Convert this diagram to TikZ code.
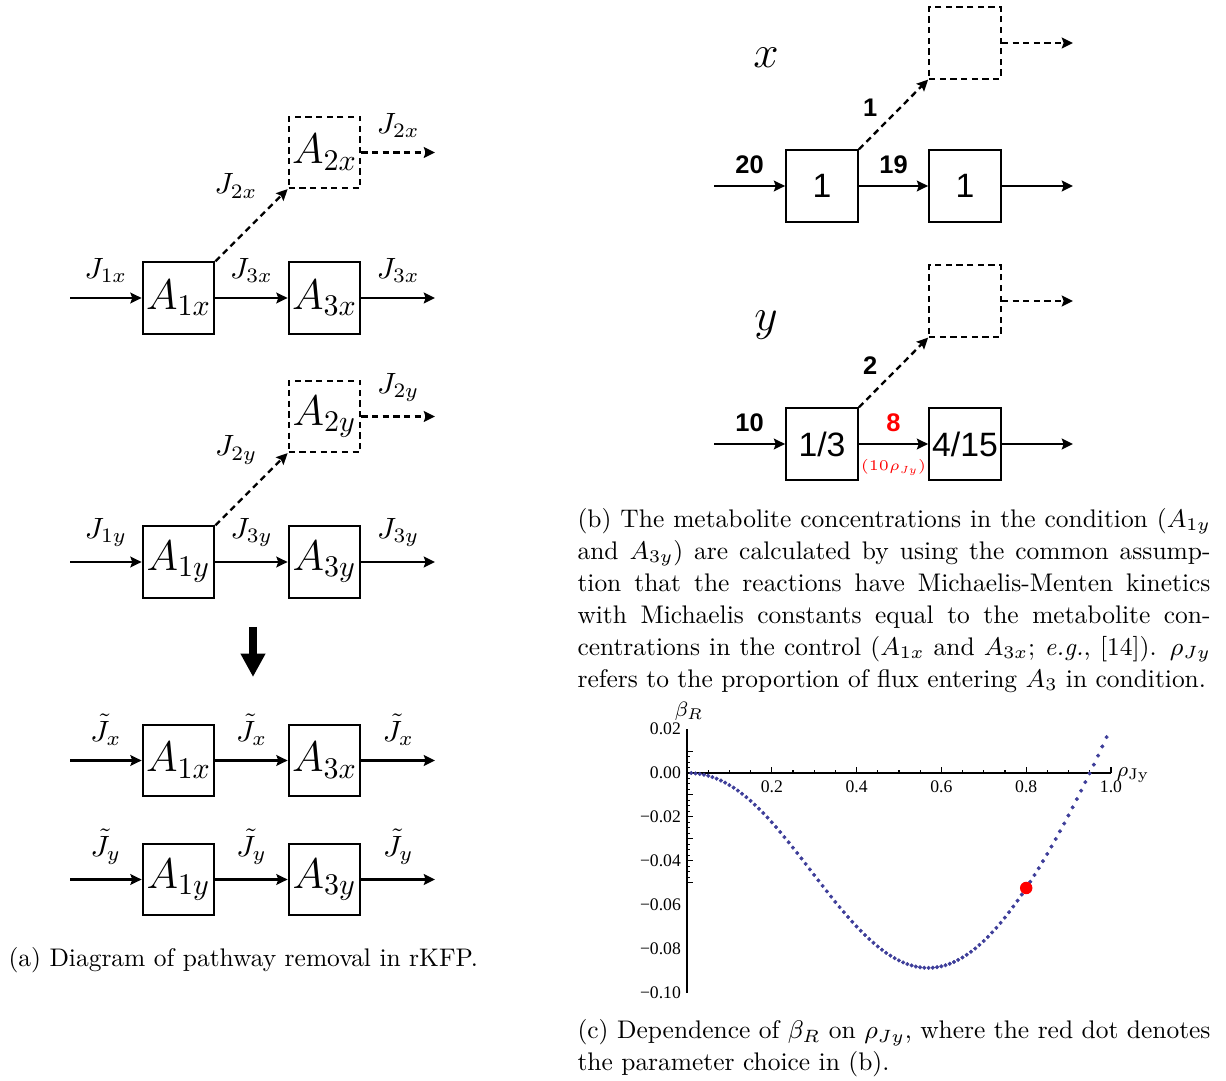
\RequirePackage{fix-cm}
\documentclass[tikz,border=0pt]{standalone}
\usepackage{fontspec}
\usepackage{tikz}
\usetikzlibrary{arrows.meta,positioning,calc}
\newfontfamily\arialfont{Liberation Sans}
\newfontfamily\timesfont{Liberation Serif}
\definecolor{plotblue}{rgb}{0.24,0.24,0.6}
\definecolor{hotred}{rgb}{1,0,0}
\tikzset{
  poolbox/.style={
    rectangle, draw=black, line width=0.8pt,
    minimum width=27.6pt, minimum height=27.4pt,
    inner sep=0.5pt, font=\fontsize{16.5}{19}\selectfont
  },
  ghostbox/.style={poolbox, dash pattern=on 2.4pt off 1.7pt},
  numbox/.style={poolbox, font=\arialfont\fontsize{13}{15}\selectfont},
  fluxarrow/.style={
    -{Stealth[length=4.3pt, width=4.1pt, inset=0.7pt]}, line width=0.9pt
  },
  lostarrow/.style={fluxarrow, dash pattern=on 2.4pt off 1.7pt},
  fluxlabel/.style={font=\fontsize{11.3}{13}\selectfont},
  numlabel/.style={font=\arialfont\bfseries\fontsize{9.8}{11}\selectfont},
  ticklabel/.style={font=\timesfont\fontsize{6.8}{8}\selectfont, inner sep=1pt},
  capnode/.style={
    font=\fontsize{9.8}{12.3}\selectfont, inner sep=0pt,
    align=justify, text width=#1
  },
  capnode/.default=243.7pt,
  axisline/.style={line width=0.4pt, black},
  declare function={betaR(\r)=(\r-0.95)*\r*\r*(0.478+2.0589*\r-3.8663*\r*\r+1.7484*\r*\r*\r);}
}

\begin{document}
\begin{tikzpicture}[x=0.385pt, y=-0.385pt]
  \useasboundingbox (0,0) rectangle (1226,1081);

  % (a) control x
  \node[poolbox] (a1x) at (178.5,298) {$A_{1x}$};
  \node[poolbox] (a3x) at (324.5,298) {$A_{3x}$};
  \node[ghostbox] (a2x) at (324.5,152.5) {$A_{2x}$};
  \coordinate (inx) at (70,298);
  \coordinate (outx) at (435,298);
  \coordinate (lostx) at (435,152.5);
  \draw[fluxarrow] (inx) -- node[fluxlabel, above=2pt] (j1x) {$J_{1x}$} (a1x);
  \draw[fluxarrow] (a1x) -- node[fluxlabel, above=2pt] (j3x) {$J_{3x}$} (a3x);
  \draw[fluxarrow] (a3x) -- node[fluxlabel, above=2pt] (j3xo) {$J_{3x}$} (outx);
  \draw[lostarrow] (a1x.north east) -- (a2x.south west);
  \node[fluxlabel] (j2x) at (236,186) {$J_{2x}$};
  \draw[lostarrow] (a2x) -- node[fluxlabel, above=2pt] (j2xo) {$J_{2x}$} (lostx);

  % (a) condition y
  \node[poolbox] (a1y) at (178.5,562) {$A_{1y}$};
  \node[poolbox] (a3y) at (324.5,562) {$A_{3y}$};
  \node[ghostbox] (a2y) at (324.5,416.5) {$A_{2y}$};
  \coordinate (iny) at (70,562);
  \coordinate (outy) at (435,562);
  \coordinate (losty) at (435,416.5);
  \draw[fluxarrow] (iny) -- node[fluxlabel, above=2pt] (j1y) {$J_{1y}$} (a1y);
  \draw[fluxarrow] (a1y) -- node[fluxlabel, above=2pt] (j3y) {$J_{3y}$} (a3y);
  \draw[fluxarrow] (a3y) -- node[fluxlabel, above=2pt] (j3yo) {$J_{3y}$} (outy);
  \draw[lostarrow] (a1y.north east) -- (a2y.south west);
  \node[fluxlabel] (j2y) at (236,450) {$J_{2y}$};
  \draw[lostarrow] (a2y) -- node[fluxlabel, above=2pt] (j2yo) {$J_{2y}$} (losty);

  % removal step
  \coordinate (dntop) at (253,627);
  \coordinate (dntip) at (253,677);
  \draw[line width=2.8pt, -{Triangle[width=9pt, length=9pt]}] (dntop) -- (dntip);

  % (a) after removal
  \node[poolbox] (r1x) at (178.5,760.5) {$A_{1x}$};
  \node[poolbox] (r3x) at (324.5,760.5) {$A_{3x}$};
  \coordinate (rinx) at (70,760.5);
  \coordinate (routx) at (435,760.5);
  \draw[fluxarrow] (rinx) -- node[fluxlabel, above=2pt] (t1x) {$\tilde{J}_x$} (r1x);
  \draw[fluxarrow] (r1x) -- node[fluxlabel, above=2pt] (t3x) {$\tilde{J}_x$} (r3x);
  \draw[fluxarrow] (r3x) -- node[fluxlabel, above=2pt] (t3xo) {$\tilde{J}_x$} (routx);
  \node[poolbox] (r1y) at (178.5,879.5) {$A_{1y}$};
  \node[poolbox] (r3y) at (324.5,879.5) {$A_{3y}$};
  \coordinate (riny) at (70,879.5);
  \coordinate (routy) at (435,879.5);
  \draw[fluxarrow] (riny) -- node[fluxlabel, above=2pt] (t1y) {$\tilde{J}_y$} (r1y);
  \draw[fluxarrow] (r1y) -- node[fluxlabel, above=2pt] (t3y) {$\tilde{J}_y$} (r3y);
  \draw[fluxarrow] (r3y) -- node[fluxlabel, above=2pt] (t3yo) {$\tilde{J}_y$} (routy);

  \node[capnode=300pt, align=left, anchor=base west] (capa) at (8,966)
    {(a) Diagram of pathway removal in rKFP.};

  % (b) control x
  \node[font=\fontsize{17.5}{20}\selectfont] (xlab) at (766,58) {$x$};
  \node[numbox] (b1x) at (822,186) {1};
  \node[numbox] (b3x) at (965,186) {1};
  \node[ghostbox] (b2x) at (965,43) {};
  \coordinate (binx) at (714,186);
  \coordinate (boutx) at (1073,186);
  \coordinate (blostx) at (1073,43);
  \draw[fluxarrow] (binx) -- node[numlabel, above=1pt] (n20) {20} (b1x);
  \draw[fluxarrow] (b1x) -- node[numlabel, above=1pt] (n19) {19} (b3x);
  \draw[fluxarrow] (b3x) -- (boutx);
  \draw[lostarrow] (b1x.north east) -- node[numlabel, left=2.5pt, yshift=2.5pt] (n1) {1} (b2x.south west);
  \draw[lostarrow] (b2x) -- (blostx);

  % (b) condition y
  \node[font=\fontsize{17.5}{20}\selectfont] (ylab) at (766,325) {$y$};
  \node[numbox] (b1y) at (822,444) {1/3};
  \node[numbox] (b3y) at (965,444) {4/15};
  \node[ghostbox] (b2y) at (965,301) {};
  \coordinate (biny) at (714,444);
  \coordinate (bouty) at (1073,444);
  \coordinate (blosty) at (1073,301);
  \draw[fluxarrow] (biny) -- node[numlabel, above=1pt] (n10) {10} (b1y);
  \draw[fluxarrow] (b1y) -- node[numlabel, text=hotred, above=1pt] (n8) {8}
    node[font=\fontsize{5.7}{7}\selectfont, text=hotred, below=2pt] (nrho) {$(10\rho_{Jy})$} (b3y);
  \draw[fluxarrow] (b3y) -- (bouty);
  \draw[lostarrow] (b1y.north east) -- node[numlabel, left=2.5pt, yshift=2.5pt] (n2) {2} (b2y.south west);
  \draw[lostarrow] (b2y) -- (blosty);

  \node[capnode, anchor=north west] (capb) at (577,508)
    {(b) The metabolite concentrations in the condition ($A_{1y}$\linebreak
     and $A_{3y}$) are calculated by using the common assump-\linebreak
     tion that the reactions have Michaelis-Menten kinetics\linebreak
     with Michaelis constants equal to the metabolite con-\linebreak
     centrations in the control ($A_{1x}$ and $A_{3x}$; \emph{e.g.}, [14]). $\rho_{Jy}$\linebreak
     refers to the proportion of flux entering $A_3$ in condition.};

  % (c) beta_R against rho_Jy
  \draw[axisline] (687,993) -- (687,729);
  \draw[axisline] (687,773) -- (1111,773);
  \foreach \i in {1,...,20}
    \draw[axisline] ({687+21.2*\i},773) -- ({687+21.2*\i},770);
  \foreach \i in {4,8,...,20}
    \draw[axisline] ({687+21.2*\i},773) -- ({687+21.2*\i},767);
  \foreach \i in {-20,...,4}
    \draw[axisline] (687,{773-5.4875*\i}) -- (690,{773-5.4875*\i});
  \foreach \i in {-20,-16,...,4}
    \draw[axisline] (687,{773-5.4875*\i}) -- (693,{773-5.4875*\i});
  \foreach \v in {0.2,0.4,0.6,0.8,1.0}
    \node[ticklabel] (xt\v) at ({687+424*\v},787) {\v};
  \foreach \v/\lab in {2/0.02,0/0.00,-2/−0.02,-4/−0.04,-6/−0.06,-8/−0.08,-10/−0.10}
    \node[ticklabel, anchor=east] (yt\v) at (684,{773-21.95*\v}) {\lab};
  \node[font=\fontsize{8}{9}\selectfont] (betalab) at (689,711) {$\beta_R$};
  \node[font=\fontsize{8}{9}\selectfont] (rholab) at (1133,775) {$\rho_{\mathrm{Jy}}$};
  \draw[plotblue, line width=0.2pt] plot[only marks, mark=*, mark size=0.68pt,
    domain=0.01:0.99, samples=99] ({687+424*\x},{773-2195*betaR(\x)});
  \node[circle, fill=hotred, inner sep=0pt, minimum size=4.8pt] (pick)
    at ({687+424*0.8},{773-2195*betaR(0.8)}) {};

  \node[capnode, anchor=north west] (capc) at (577,1019)
    {(c) Dependence of $\beta_R$ on $\rho_{Jy}$, where the red dot denotes\linebreak
     the parameter choice in (b).};
\end{tikzpicture}
\end{document}
